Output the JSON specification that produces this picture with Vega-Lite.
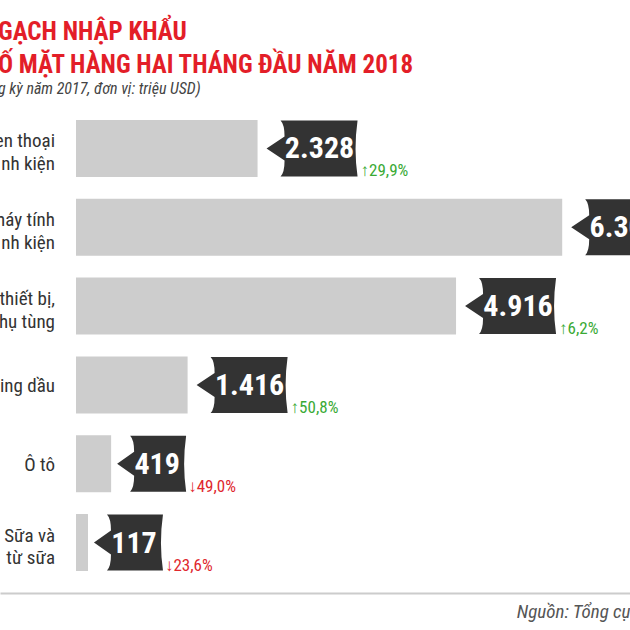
{
  "$schema": "https://vega.github.io/schema/vega-lite/v6.json",
  "width": 630,
  "height": 630,
  "autosize": {"type": "none"},
  "padding": 0,
  "background": "#ffffff",
  "config": {"view": {"stroke": null}},
  "title": {
    "text": ["GẠCH NHẬP KHẨU", "Ố MẶT HÀNG HAI THÁNG ĐẦU NĂM 2018"],
    "subtitle": "g kỳ năm 2017, đơn vị: triệu USD)",
    "anchor": "start",
    "frame": "group",
    "font": "Roboto Condensed, Roboto",
    "fontSize": 25,
    "fontWeight": "bold",
    "color": "#e31e28",
    "lineHeight": 33,
    "subtitleFont": "Roboto Condensed, Roboto",
    "subtitleFontStyle": "italic",
    "subtitleFontSize": 16,
    "subtitleColor": "#444444",
    "subtitlePadding": 3,
    "offset": 0,
    "dx": -2,
    "dy": 97
  },
  "data": {
    "values": [
      {"item": "en thoại\nnh kiện", "value": 2328, "label": "2.328", "change": "↑29,9%", "dir": "up"},
      {"item": "háy tính\nnh kiện", "value": 6300, "label": "6.300", "change": "", "dir": "up"},
      {"item": "thiết bị,\nhụ tùng", "value": 4916, "label": "4.916", "change": "↑6,2%", "dir": "up"},
      {"item": "ing dầu", "value": 1416, "label": "1.416", "change": "↑50,8%", "dir": "up"},
      {"item": "Ô tô", "value": 419, "label": "419", "change": "↓49,0%", "dir": "down"},
      {"item": "Sữa và\ntừ sữa", "value": 117, "label": "117", "change": "↓23,6%", "dir": "down"}
    ]
  },
  "encoding": {
    "x": {
      "field": "value",
      "type": "quantitative",
      "scale": {"domain": [-1030, 7184], "nice": false, "zero": false},
      "axis": {
        "domain": true,
        "domainColor": "#cccccc",
        "domainWidth": 2,
        "ticks": false,
        "labels": false,
        "grid": false,
        "offset": -37,
        "title": "Nguồn: Tổng cụ",
        "titleFont": "Roboto Condensed, Roboto",
        "titleFontStyle": "italic",
        "titleFontWeight": "normal",
        "titleFontSize": 19,
        "titleColor": "#555555",
        "titleAnchor": "end",
        "titlePadding": 9
      }
    },
    "y": {
      "field": "item",
      "type": "nominal",
      "sort": null,
      "scale": {"range": [120, 571], "paddingInner": 0.277, "paddingOuter": 0},
      "axis": null
    }
  },
  "layer": [
    {
      "mark": {"type": "bar", "color": "#cdcdcd"},
      "encoding": {"x2": {"datum": -39}}
    },
    {
      "transform": [{"filter": "length(datum.label) > 3"}],
      "mark": {"type": "point", "filled": true, "size": 4, "opacity": 1, "fill": "#333333", "strokeWidth": 0,
        "shape": "M 9 0 L 27 -12 Q 27 -24 23 -28 L 100 -28 Q 96 0 100 28 L 23 28 Q 27 24 27 12 Z"}
    },
    {
      "transform": [{"filter": "length(datum.label) <= 3"}],
      "mark": {"type": "point", "filled": true, "size": 4, "opacity": 1, "fill": "#333333", "strokeWidth": 0,
        "shape": "M 6 0 L 23 -12 Q 23 -24 19 -28 L 75 -28 Q 71 0 75 28 L 19 28 Q 23 24 23 12 Z"}
    },
    {
      "transform": [{"filter": "length(datum.label) > 3"}],
      "mark": {"type": "text", "font": "Roboto Condensed, Roboto", "fontWeight": "bold", "fontSize": 30, "color": "#ffffff", "align": "center", "baseline": "middle", "dx": 62, "dy": 1},
      "encoding": {"text": {"field": "label"}}
    },
    {
      "transform": [{"filter": "length(datum.label) <= 3"}],
      "mark": {"type": "text", "font": "Roboto Condensed, Roboto", "fontWeight": "bold", "fontSize": 30, "color": "#ffffff", "align": "center", "baseline": "middle", "dx": 46, "dy": 1},
      "encoding": {"text": {"field": "label"}}
    },
    {
      "transform": [{"filter": "length(datum.label) > 3"}],
      "mark": {"type": "text", "font": "Roboto Condensed, Roboto", "fontSize": 17, "align": "left", "baseline": "alphabetic", "dx": 103, "dy": 28},
      "encoding": {
        "text": {"field": "change"},
        "color": {"field": "dir", "type": "nominal", "scale": {"domain": ["up", "down"], "range": ["#3aaa35", "#e0282e"]}, "legend": null}
      }
    },
    {
      "transform": [{"filter": "length(datum.label) <= 3"}],
      "mark": {"type": "text", "font": "Roboto Condensed, Roboto", "fontSize": 17, "align": "left", "baseline": "alphabetic", "dx": 77, "dy": 28},
      "encoding": {
        "text": {"field": "change"},
        "color": {"field": "dir", "type": "nominal", "scale": {"domain": ["up", "down"], "range": ["#3aaa35", "#e0282e"]}, "legend": null}
      }
    },
    {
      "transform": [{"filter": "indexof(datum.item, '\\n') >= 0"}],
      "mark": {"type": "text", "font": "Roboto Condensed, Roboto", "fontSize": 19, "color": "#333333", "align": "right", "baseline": "middle", "lineBreak": "\n", "lineHeight": 22.5, "dy": -7},
      "encoding": {
        "x": {"datum": -313, "type": "quantitative"},
        "text": {"field": "item"}
      }
    },
    {
      "transform": [{"filter": "indexof(datum.item, '\\n') < 0"}],
      "mark": {"type": "text", "font": "Roboto Condensed, Roboto", "fontSize": 19, "color": "#333333", "align": "right", "baseline": "middle", "dy": 1},
      "encoding": {
        "x": {"datum": -313, "type": "quantitative"},
        "text": {"field": "item"}
      }
    }
  ]
}
